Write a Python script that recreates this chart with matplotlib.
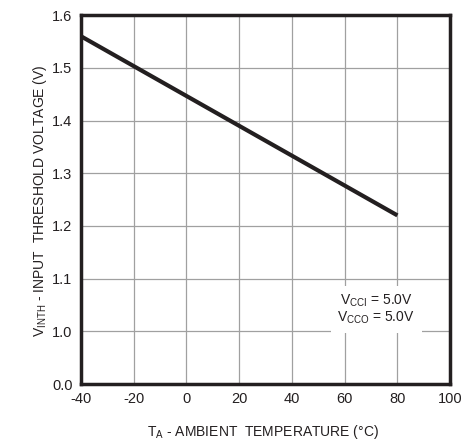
import numpy as np
import matplotlib
matplotlib.use("Agg")
import matplotlib.pyplot as plt

plt.rcParams['font.family'] = ['Liberation Sans', 'DejaVu Sans']
plt.rcParams['axes.unicode_minus'] = False

# data
temp = [-40, 80]
vinth = [1.56, 1.22]

x_ticks = [-40, -20, 0, 20, 40, 60, 80, 100]
y_ticks = [0.0, 1.0, 1.1, 1.2, 1.3, 1.4, 1.5, 1.6]
y_labels = ["0.0", "1.0", "1.1", "1.2", "1.3", "1.4", "1.5", "1.6"]


# broken axis: 0.0 -> 1.0 takes one grid step, the rest 0.1 per step
def fwd(v):
    v = np.asarray(v, dtype=float)
    return np.where(v >= 1.0, (v - 1.0) * 10 + 1.0, v)


def inv(p):
    p = np.asarray(p, dtype=float)
    return np.where(p >= 1.0, (p - 1.0) / 10 + 1.0, p)


fig = plt.figure(figsize=(4.65, 4.45), dpi=100)
ax = fig.add_axes([0.174, 0.137, 0.794, 0.829])
ax.set_yscale('function', functions=(fwd, inv))

ax.plot(temp, vinth, color='#231f20', lw=3, solid_capstyle='butt', zorder=3)

ax.set_xlim(-40, 100)
ax.set_ylim(0.0, 1.6)
ax.set_xticks(x_ticks)
ax.set_yticks(y_ticks)
ax.set_yticklabels(y_labels)
ax.yaxis.set_minor_locator(matplotlib.ticker.NullLocator())
ax.tick_params(length=0, labelsize=10.5, pad=6, colors='#231f20')
ax.grid(True, color='#a0a0a0', lw=0.9)

for s in ax.spines.values():
    s.set_linewidth(2.5)
    s.set_color('#231f20')

ax.text(72, 1.042, "V$_{\\mathregular{CCI}}$ = 5.0V\nV$_{\\mathregular{CCO}}$ = 5.0V",
        ha='center', va='center', fontsize=10, color='#231f20', linespacing=1.0,
        bbox=dict(facecolor='white', edgecolor='none', pad=5), zorder=4)

fig.text(0.086, 0.55, "V$_{\\mathregular{INTH}}$ - INPUT  THRESHOLD VOLTAGE (V)",
         rotation=90, ha='center', va='center', fontsize=10, color='#231f20')
fig.text(0.565, 0.03, "T$_{\\mathregular{A}}$ - AMBIENT  TEMPERATURE (°C)",
         ha='center', va='center', fontsize=10, color='#231f20')

fig.savefig("out.png", dpi=100)
